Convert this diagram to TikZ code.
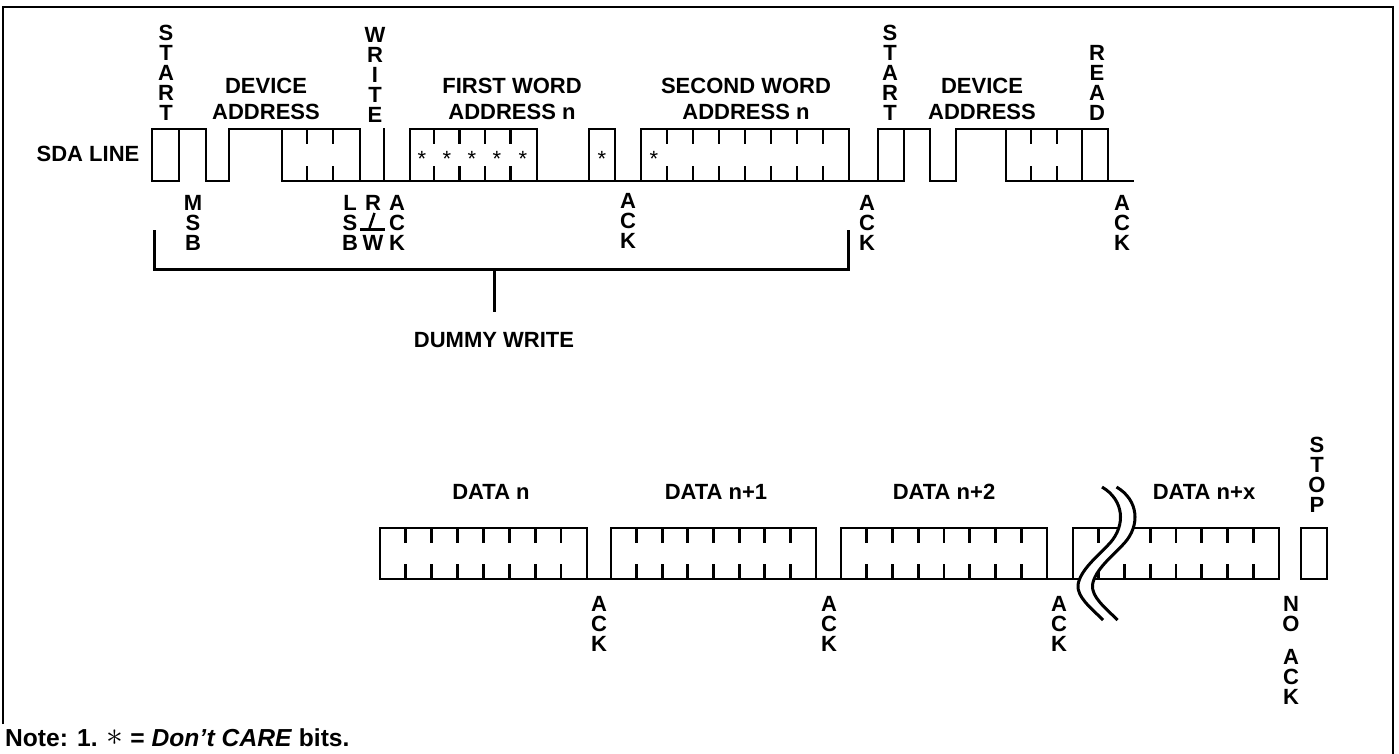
\documentclass[tikz,border=0pt]{standalone}
\usepackage{fontspec}
\setmainfont{Liberation Sans}
\begin{document}
\begin{tikzpicture}[x=1pt,y=-1pt,
  wave/.style={line width=2.9pt, line cap=rect, line join=miter},
  frame/.style={line width=2pt},
  lbl/.style={font=\fontsize{22}{25.7}\selectfont\bfseries, inner sep=0pt, align=center, anchor=south},
  vlbl/.style={font=\fontsize{22}{20}\selectfont\bfseries, inner sep=0pt, align=center, anchor=north},
  hlbl/.style={font=\fontsize{22}{25}\selectfont\bfseries, inner sep=0pt, anchor=base},
  dc/.style={font=\fontsize{22}{22}\selectfont, inner sep=0pt, anchor=base},
  brk/.style={line width=3pt, line cap=butt}]
\useasboundingbox (0,0) rectangle (1399,754);
% frame
\draw[frame] (3,724) -- (3,7) -- (1393,7) -- (1393,754);
% ---------- top waveform ----------
\draw[wave] (152,129) rectangle (179,181);
\draw[wave] (179,129) -- (206,129) -- (206,181) -- (229,181) -- (229,129) -- (360,129) -- (360,181);
\draw[wave] (282,129) -- (282,181) -- (878,181);
\draw[wave] (384,181) -- (384,129);
\draw[wave] (410,181) -- (410,129) -- (537,129) -- (537,181);
\draw[wave] (589,181) -- (589,129) -- (615,129) -- (615,181);
\draw[wave] (641,181) -- (641,129) -- (849,129) -- (849,181);
\draw[wave] (878,129) rectangle (904,181);
\draw[wave] (904,129) -- (930,129) -- (930,181) -- (956,181) -- (956,129) -- (1108,129) -- (1108,181) -- (1133,181);
\draw[wave] (1006,129) -- (1006,181) -- (1108,181);
\draw[wave] (1082,129) -- (1082,181);
\foreach \x in {307,333,434,459.5,485,510.5,667,693,719,745,771,797,823,1031,1057}
  {\draw[wave] (\x,129) -- (\x,143) (\x,167) -- (\x,181);}
% don't care bits
\foreach \x [count=\i] in {422,447,472,497,523,602,654}
  {\node[dc] (dc\i) at (\x,166.5) {*};}
% ---------- bottom waveform ----------
\draw[wave] (380,579) -- (1279,579);
\draw[wave] (380,579) -- (380,528) -- (587,528) -- (587,579);
\draw[wave] (611,579) -- (611,528) -- (816,528) -- (816,579);
\draw[wave] (841,579) -- (841,528) -- (1047,528) -- (1047,579);
\draw[wave] (1073,579) -- (1073,528) -- (1279,528) -- (1279,579);
\draw[wave] (1301,528) rectangle (1327,579);
\foreach \s/\w in {380/25.85,611/25.625,841/25.75,1073/25.75}
  {\foreach \k in {1,...,7}
    {\draw[wave] ({\s+\k*\w},528) -- ({\s+\k*\w},542) ({\s+\k*\w},565) -- ({\s+\k*\w},579);}}
% break symbol
\fill[white] (1102,487) .. controls (1124,500) and (1126,525) .. (1110,543)
  .. controls (1098,556) and (1080,570) .. (1078,585)
  .. controls (1077,597) and (1090,607) .. (1103,620)
  -- (1117.5,620) .. controls (1104.5,607) and (1091.5,597) .. (1092.5,585)
  .. controls (1094.5,570) and (1112.5,556) .. (1124.5,543)
  .. controls (1140.5,525) and (1138.5,500) .. (1116.5,487) -- cycle;
\foreach \dx in {0,14.5}
  {\draw[brk, xshift=\dx pt] (1102,487) .. controls (1124,500) and (1126,525) .. (1110,543)
    .. controls (1098,556) and (1080,570) .. (1078,585)
    .. controls (1077,597) and (1090,607) .. (1103,620);}
% ---------- dummy write bracket ----------
\draw[line width=3pt, line join=miter] (154,230) -- (154,269) -- (848,269) -- (848,230);
\coordinate (bm) at (494,269);
\node[hlbl] (dummy) at (494,347) {DUMMY WRITE};
\draw[line width=3pt] (bm) -- ++(0,43);
% ---------- labels top ----------
\node[hlbl] (sda) at (88,162) {SDA LINE};
\node[vlbl] (start1) at (166,25) {S\\T\\A\\R\\T};
\node[lbl] (dev1) at (266,120) {DEVICE\\ADDRESS};
\node[vlbl] (write) at (375,27) {W\\R\\I\\T\\E};
\node[lbl] (fw) at (512,120) {FIRST WORD\\ADDRESS n};
\node[lbl] (sw) at (746,120) {SECOND WORD\\ADDRESS n};
\node[vlbl] (start2) at (890,25) {S\\T\\A\\R\\T};
\node[lbl] (dev2) at (982,120) {DEVICE\\ADDRESS};
\node[vlbl] (read) at (1097,45) {R\\E\\A\\D};
\node[vlbl] (msb) at (193,195) {M\\S\\B};
\node[vlbl] (lsb) at (350,195) {L\\S\\B};
\node[vlbl] (rr) at (373,195) {R};
\node[vlbl] (ww) at (373,235) {W};
\draw[line width=2.5pt] (360,229.5) -- (385,229.5);
\draw[line width=2.5pt] (369.5,228) -- (374.5,213);
\node[vlbl] (ack1) at (397,195) {A\\C\\K};
\node[vlbl] (ack2) at (628,193) {A\\C\\K};
\node[vlbl] (ack3) at (867,195) {A\\C\\K};
\node[vlbl] (ack4) at (1122,195) {A\\C\\K};
% ---------- labels bottom ----------
\node[hlbl] (d0) at (491,499) {DATA n};
\node[hlbl] (d1) at (716,499) {DATA n+1};
\node[hlbl] (d2) at (944,499) {DATA n+2};
\node[hlbl] (dx) at (1204,499) {DATA n+x};
\node[vlbl] (ack5) at (599,596) {A\\C\\K};
\node[vlbl] (ack6) at (829,596) {A\\C\\K};
\node[vlbl] (ack7) at (1059,596) {A\\C\\K};
\node[vlbl] (noack) at (1291,596) {N\\O\\[13pt]A\\C\\K};
\node[vlbl] (stop) at (1317,437) {S\\T\\O\\P};
% ---------- note ----------
\node[font=\fontsize{24.6}{28}\selectfont\bfseries, inner sep=0pt, anchor=base west] (note) at (5,746)
  {Note: 1. \raisebox{0.5pt}{\scalebox{1.35}{$\ast$}} = \textit{Don’t CARE} bits.};
\end{tikzpicture}
\end{document}
